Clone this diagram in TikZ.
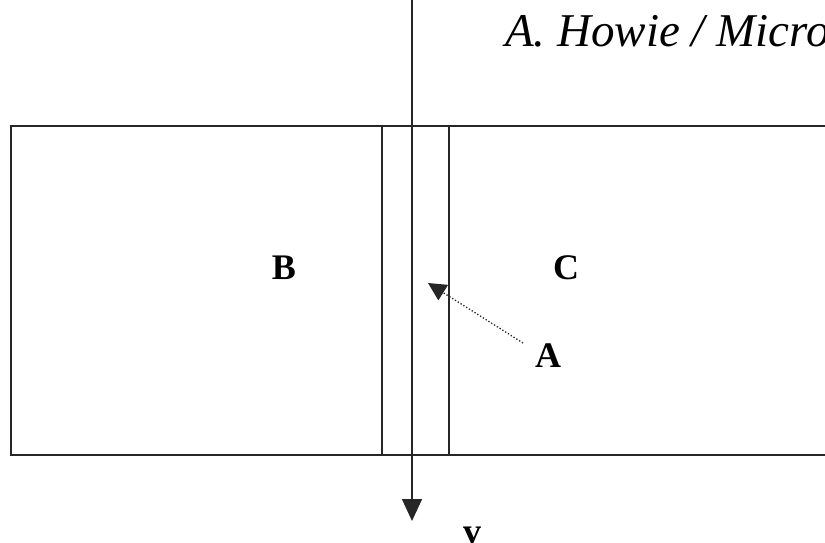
\documentclass[tikz,border=0pt]{standalone}
\usepackage{fontspec}
\setmainfont{Liberation Serif}
\usetikzlibrary{arrows.meta}
\begin{document}
\begin{tikzpicture}[x=1pt,y=-1pt,
  frame/.style={draw=black!85,line width=2pt},
  lbl/.style={font=\fontsize{36}{36}\selectfont\bfseries,inner sep=0pt},
  axis/.style={draw=black!85,line width=1.6pt,-{Triangle[width=20pt,length=22pt]}},
  pointer/.style={draw=black!85,line width=1.3pt,dotted,-{Triangle[width=18pt,length=18pt]}}]
\useasboundingbox (0,0) rectangle (825,543);
\clip (0,0) rectangle (825,543);
% slab
\draw[frame] (850,126) -- (11,126) -- (11,455) -- (850,455);
\draw[frame] (382,126) -- (382,455);
\draw[frame] (449,126) -- (449,455);
% labels
\node[lbl] (B) at (284,268) {B};
\node[lbl] (C) at (566,268) {C};
\node[lbl] (A) at (548,356) {A};
\node[lbl,anchor=base] (v) at (472,543) {v};
\node[font=\fontsize{47}{47}\selectfont\itshape,anchor=base west,inner sep=0pt] (title) at (505,47) {A. Howie / Micron};
% beam
\coordinate (top) at (412,0);
\coordinate (bot) at (412,521);
\draw[axis] (top) -- (bot);
% pointer
\coordinate (tail) at (523,343);
\coordinate (tipA) at (428,283);
\draw[pointer] (tail) -- (tipA);
\end{tikzpicture}
\end{document}
